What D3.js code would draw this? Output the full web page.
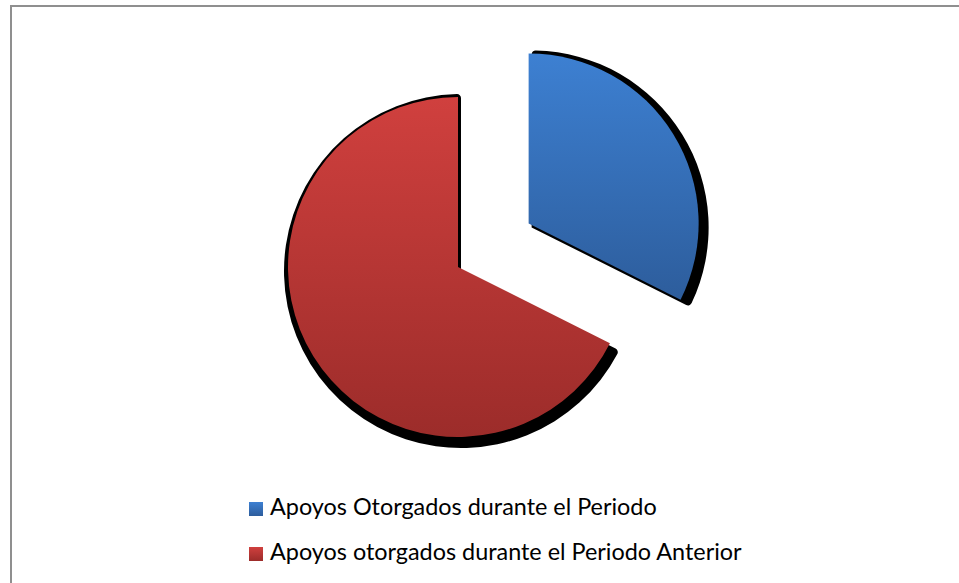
<!DOCTYPE html>
<html>
<head>
<meta charset="utf-8">
<script src="https://cdn.jsdelivr.net/npm/d3@7"></script>
<style>
  html, body { margin: 0; padding: 0; background: #fff; }
  svg { display: block; }
</style>
</head>
<body>
<svg id="chart" width="959" height="583"></svg>
<script>
const categories = ["Apoyos Otorgados durante el Periodo", "Apoyos otorgados durante el Periodo Anterior"];
const values = [32.4, 67.6];
const exploded = [true, false];
const topColors = ["#3d80d2", "#d0403e"];
const bottomColors = ["#2d5d9c", "#9c2c2a"];

const W = 959, H = 583;
const svg = d3.select("#chart");
const defs = svg.append("defs");

// border
svg.append("rect").attr("x", 11).attr("y", 6).attr("width", W + 20).attr("height", H + 20)
  .attr("fill", "#fff").attr("stroke", "#8f8f8f").attr("stroke-width", 2);

const cx = 458, cy = 267, R = 170, explode = 83;

categories.forEach((c, i) => {
  const g = defs.append("linearGradient").attr("id", "grad" + i)
    .attr("x1", 0).attr("y1", 0).attr("x2", 0).attr("y2", 1);
  g.append("stop").attr("offset", "0%").attr("stop-color", topColors[i]);
  g.append("stop").attr("offset", "100%").attr("stop-color", bottomColors[i]);
});

const pie = d3.pie().sort(null).value(d => d.v).startAngle(0).endAngle(2 * Math.PI);
const arcs = pie(values.map((v, i) => ({ v, i })));
const arc = d3.arc().innerRadius(0).outerRadius(R);
const shadowArc = d3.arc().innerRadius(0).outerRadius(R + 7).cornerRadius(4);

const root = svg.append("g").attr("transform", `translate(${cx},${cy})`);

function offset(d) {
  if (!exploded[d.data.i]) return [0, 0];
  const a = (d.startAngle + d.endAngle) / 2;
  return [Math.sin(a) * explode, -Math.cos(a) * explode];
}

// shadows
root.selectAll("path.shadow").data(arcs).join("path")
  .attr("class", "shadow")
  .attr("d", shadowArc)
  .attr("fill", "#000")
  .attr("transform", d => { const o = offset(d); return `translate(${o[0] + 3},${o[1] + 4})`; });

// slices
root.selectAll("path.slice").data(arcs).join("path")
  .attr("class", "slice")
  .attr("d", arc)
  .attr("fill", d => `url(#grad${d.data.i})`)
  .attr("transform", d => { const o = offset(d); return `translate(${o[0]},${o[1]})`; });

// legend
const legend = svg.append("g");
const rowY = d3.scalePoint().domain(categories).range([515, 560]);
const items = legend.selectAll("g").data(categories).join("g")
  .attr("transform", d => `translate(249,${rowY(d)})`);
items.append("rect").attr("x", 0).attr("y", -13).attr("width", 14).attr("height", 14)
  .attr("fill", (d, i) => `url(#grad${i})`);
const texts = items.append("text").attr("x", 21).attr("y", 0)
  .attr("font-family", "Lato, 'Open Sans', sans-serif")
  .attr("font-size", 21)
  .attr("fill", "#000")
  .text(d => d);
// fit first label to reference width (~387px)
const w0 = texts.nodes()[0].getComputedTextLength();
const fs = 21 * 387 / w0;
texts.attr("font-size", fs);
</script>
</body>
</html>
